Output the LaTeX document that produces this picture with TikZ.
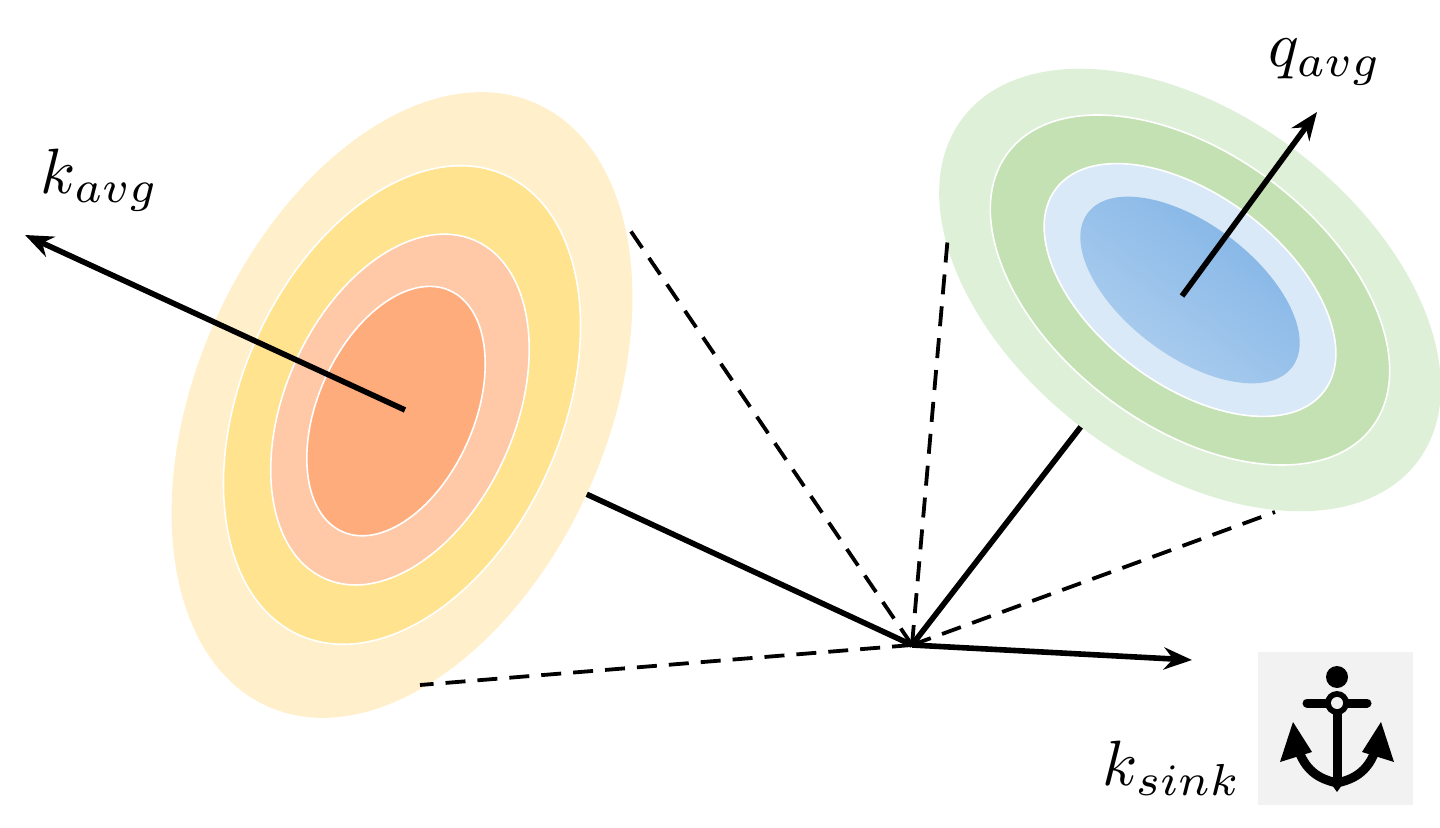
\documentclass[tikz,border=0pt]{standalone}
\usetikzlibrary{arrows.meta}
\begin{document}
\begin{tikzpicture}[x=0.5pt,y=-0.5pt,
  ring/.style={draw=white,line width=0.8pt},
  sol/.style={line width=2.8pt,black},
  arr/.style={sol,-{Stealth[length=14pt,width=11pt]}},
  dsh/.style={line width=1.9pt,dash pattern=on 10pt off 6pt},
  lbl/.style={scale=3.2}]
\useasboundingbox (0,0) rectangle (1440,828);
\definecolor{o1}{HTML}{FFF0CB}\definecolor{o2}{HTML}{FFE38E}
\definecolor{o3}{HTML}{FFC8A6}\definecolor{o4}{HTML}{FFAC7C}
\definecolor{g1}{HTML}{DFF0D8}\definecolor{g2}{HTML}{C3E1B3}
\definecolor{b1}{HTML}{DAE9F7}\definecolor{b2}{HTML}{80B3E6}\definecolor{b3}{HTML}{B0D0EF}
\coordinate (O) at (912,645);
\coordinate (K) at (405,410);
\coordinate (Q) at (1182,296);
\draw[sol] (O) -- (K);
\draw[sol] (O) -- (Q);
\begin{scope}[shift={(402,405)},rotate=66]
\fill[o1] (0,0) ellipse (330 and 205);
\draw[ring,fill=o2] (0,0) ellipse (252 and 160);
\draw[ring,fill=o3] (-5,0) ellipse (185 and 115);
\draw[ring,fill=o4] (-8,-3) ellipse (132 and 78);
\end{scope}
\begin{scope}[shift={(1190,290)},rotate=-37]
\fill[g1] (0,0) ellipse (285 and 175);
\draw[ring,fill=g2] (0,0) ellipse (228 and 136);
\draw[ring,fill=b1] (0,0) ellipse (168 and 95);
\shade[left color=b2,right color=b3,shading angle=-37] (0,0) ellipse (128 and 66);
\end{scope}
\draw[arr] (K) -- (25,235) coordinate (KT);
\draw[arr] (Q) -- (1317,112) coordinate (QT);
\draw[arr] (O) -- (1192,660) coordinate (ST);
\coordinate (d1) at (420,685);\coordinate (d2) at (630,230);
\coordinate (d3) at (948,235);\coordinate (d4) at (1275,512);
\foreach \d in {d1,d2,d3,d4} \draw[dsh] (O) -- (\d);
\node[lbl] (lk) at (100,180) {$k_{avg}$};
\node[lbl] (lq) at (1325,62) {$q_{avg}$};
\node[lbl] (ls) at (1172,768) {$k_{sink}$};
\fill[black!5] (1258,652) rectangle (1413,805);
\begin{scope}
\fill (1337,677) circle (11);
\draw[line width=4.5pt,line cap=round] (1307,703) -- (1367,703);
\draw[line width=4.5pt] (1337,703) -- (1337,780);
\fill (1337,703) circle (12);
\fill[black!5] (1337,703) circle (6);
\draw[line width=4.5pt] (1297,745) .. controls (1305,775) and (1325,780) .. (1337,783) .. controls (1349,780) and (1369,775) .. (1377,745);
\fill (1337,792) -- (1327,778) -- (1347,778) -- cycle;
\fill (1293,722) -- (1280,762) -- (1312,752) -- cycle;
\fill (1381,722) -- (1394,762) -- (1362,752) -- cycle;
\end{scope}
\end{tikzpicture}
\end{document}
